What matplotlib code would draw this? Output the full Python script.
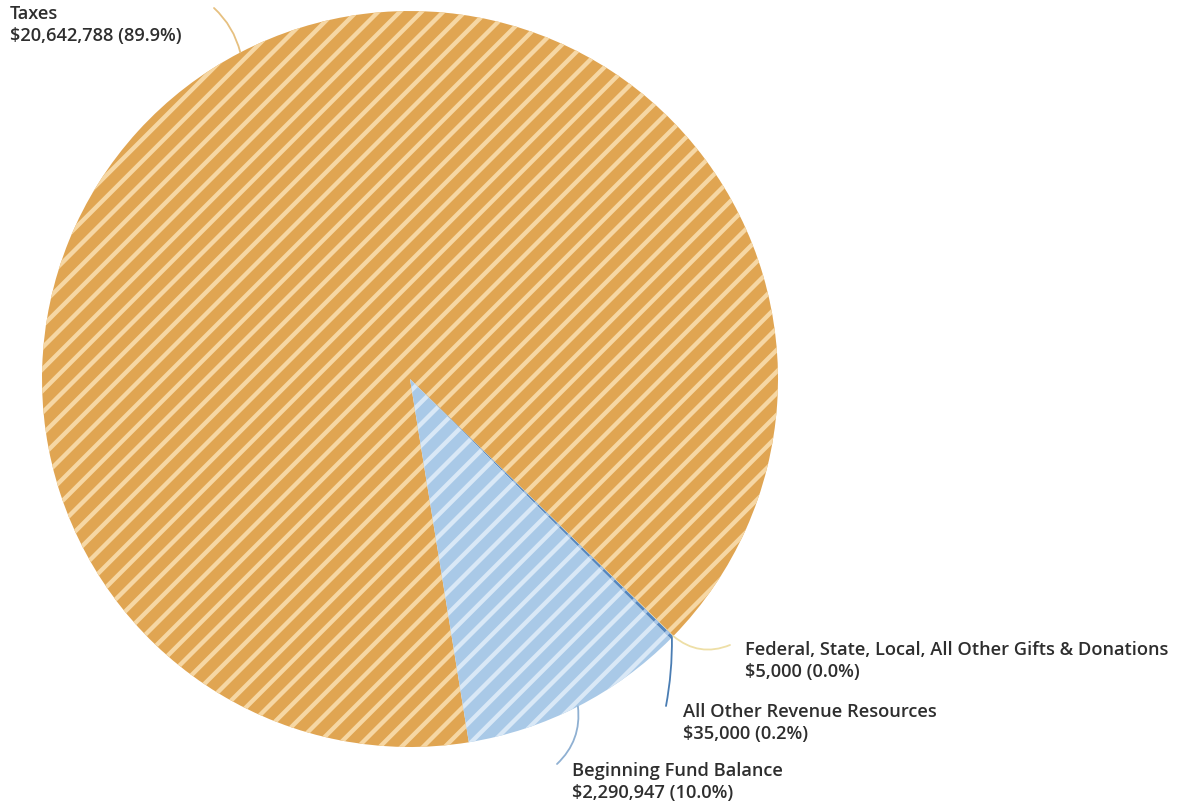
import matplotlib.pyplot as plt
import numpy as np

categories = [
    "Taxes",
    "Federal, State, Local, All Other Gifts & Donations",
    "All Other Revenue Resources",
    "Beginning Fund Balance",
]
amounts = [20642788, 5000, 35000, 2290947]

BASE = ["#e0a552", "#f1dc9c", "#5686bd", "#a9c9e7"]
STRIPE = ["#f6d7a4", "#fbf0cc", "#a9c6e6", "#d9e8f6"]
LINE = ["#e6c080", "#eedfa6", "#4a7db3", "#8fb0d2"]

DPI = 130
W, H = 1181, 806
plt.rcParams["hatch.linewidth"] = 2.4

fig = plt.figure(figsize=(W / DPI, H / DPI), dpi=DPI)
ax = fig.add_axes([0, 0, 1, 1])

cx, cy, r = 410, H - 379, 368
wedges, _ = ax.pie(
    amounts,
    colors=BASE,
    startangle=-80.8,
    counterclock=False,
    center=(cx, cy),
    radius=r,
    frame=True,
    wedgeprops=dict(linewidth=0),
)
for w, c in zip(wedges, STRIPE):
    w.set_edgecolor(c)
    w.set_linewidth(0)
    w.set_hatch("//")
ax.set_xlim(0, W)
ax.set_ylim(0, H)
ax.set_aspect("equal")
ax.axis("off")

total = sum(amounts)
# label anchor (left, block center) and connector end, image pixel coords
label_xy = [(10, 25), (745, 661), (683, 723), (572, 782)]
line_end = [(214, 8), (730, 645), (666, 706), (557, 764)]
rads = [-0.15, -0.3, 0.05, 0.25]

for i, w in enumerate(wedges):
    mid = np.deg2rad((w.theta1 + w.theta2) / 2)
    ex, ey = cx + r * np.cos(mid), cy + r * np.sin(mid)
    lx, ly = line_end[i]
    ax.annotate(
        "",
        xy=(ex, ey),
        xytext=(lx, H - ly),
        arrowprops=dict(
            arrowstyle="-",
            color=LINE[i],
            lw=1.0,
            shrinkA=0,
            shrinkB=0,
            connectionstyle=f"arc3,rad={rads[i]}",
        ),
    )
    pct = amounts[i] / total * 100
    tx, ty = label_xy[i]
    ax.text(
        tx,
        H - ty,
        f"{categories[i]}\n${amounts[i]:,} ({pct:.1f}%)",
        ha="left",
        va="center",
        fontsize=10.1,
        fontweight="semibold",
        family=["Open Sans", "DejaVu Sans"],
        color="#2e2e2e",
        linespacing=1.3,
    )

fig.savefig("out.png", dpi=DPI, facecolor="white")
